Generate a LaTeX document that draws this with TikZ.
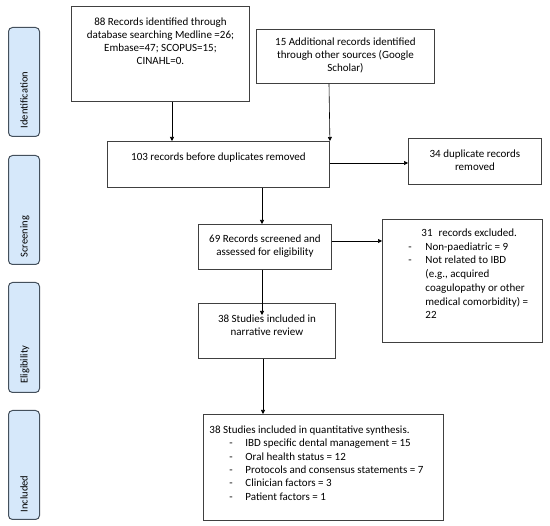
\documentclass[tikz,border=0pt]{standalone}
\usepackage{fontspec}
\setmainfont{Carlito}
\usetikzlibrary{arrows.meta}
\definecolor{stagefill}{HTML}{D6E8FA}
\definecolor{stageline}{HTML}{44505C}
\definecolor{boxline}{HTML}{404040}
\newcommand{\bxt}[3]{\parbox[t][#2pt][t]{#1pt}{\fontsize{11}{13}\selectfont #3}}
\tikzset{
  box/.style={draw=boxline, line width=0.9pt, inner sep=0pt, anchor=north west, fill=white},
  stage/.style={draw=stageline, fill=stagefill, line width=1pt, rounded corners=4pt,
    minimum width=31pt, anchor=north west, inner sep=0pt},
  stagetxt/.style={rotate=90, anchor=base west, font=\fontsize{10.5}{12}\selectfont, inner sep=0pt},
  flow/.style={draw=black, line width=0.6pt, -{Triangle[length=4pt,width=4pt]}}
}
\begin{document}
\begin{tikzpicture}[x=1pt,y=-1pt]
\useasboundingbox (0,0) rectangle (550,526);
% stage labels
\node[stage, minimum height=109pt] (s1) at (8,27) {};
\node[stage, minimum height=109pt] (s2) at (8,155) {};
\node[stage, minimum height=110pt] (s3) at (8,282) {};
\node[stage, minimum height=109pt] (s4) at (8,410) {};
\node[stagetxt] (t1) at ([xshift=3.5pt,yshift=8.5pt]s1.south) {Identification};
\node[stagetxt] (t2) at ([xshift=3.5pt,yshift=7.5pt]s2.south) {Screening};
\node[stagetxt] (t3) at ([xshift=3.5pt,yshift=9pt]s3.south) {Eligibility};
\node[stagetxt] (t4) at ([xshift=3.5pt,yshift=7.5pt]s4.south) {Included};
% boxes
\node[box] (a) at (71,6) {\bxt{178}{95}{\vspace*{11pt}\centering 88 Records identified through\\ database searching Medline =26;\\ Embase=47; SCOPUS=15;\\ CINAHL=0.\par}};
\node[box] (b) at (256,29) {\bxt{178}{54}{\vspace*{8.5pt}\centering 15 Additional records identified\\ through other sources (Google\\ Scholar)\par}};
\node[box] (c) at (107,141) {\bxt{222}{46}{\vspace*{11.5pt}\centering 103 records before duplicates removed\par}};
\node[box] (d) at (408,138) {\bxt{133}{46}{\vspace*{11.5pt}\centering 34 duplicate records\\ removed\par}};
\node[box] (e) at (198,224) {\bxt{133}{45}{\vspace*{10.5pt}\centering 69 Records screened and\\ assessed for eligibility\par}};
\node[box] (f) at (382,219) {\bxt{160}{123}{\fontsize{11}{13.7}\selectfont\vspace*{9.5pt}\hspace*{39pt}31\hspace{6pt}records excluded.\\
\hspace*{26pt}\makebox[17pt][l]{-}Non-paediatric = 9\\
\hspace*{26pt}\makebox[17pt][l]{-}Not related to IBD\\
\hspace*{43pt}(e.g., acquired\\
\hspace*{43pt}coagulopathy or other\\
\hspace*{43pt}medical comorbidity) =\\
\hspace*{43pt}22\par}};
\node[box] (g) at (198,303) {\bxt{137}{55}{\vspace*{11.5pt}\centering 38 Studies included in\\ narrative review\par}};
\node[box] (h) at (203,414) {\bxt{240}{106}{\fontsize{11}{13.3}\selectfont\vspace*{11.5pt}\hspace*{6pt}38 Studies included in quantitative synthesis.\\
\hspace*{26pt}\makebox[16pt][l]{-}IBD specific dental management = 15\\
\hspace*{26pt}\makebox[16pt][l]{-}Oral health status = 12\\
\hspace*{26pt}\makebox[16pt][l]{-}Protocols and consensus statements = 7\\
\hspace*{26pt}\makebox[16pt][l]{-}Clinician factors = 3\\
\hspace*{26pt}\makebox[16pt][l]{-}Patient factors = 1\par}};
% connectors
\draw[flow] (a.south -| 172,0) -- (c.north -| 172,0);
\draw[flow] (b.south -| 329,0) -- (c.north east);
\draw[flow] (c.east |- 0,163) -- (d.west |- 0,163);
\draw[flow] (c.south -| 262,0) -- (e.north -| 262,0);
\draw[flow] (e.east |- 0,241) -- (f.west |- 0,241);
\draw[flow] (e.south -| 262,0) -- ([yshift=-12pt]g.north -| 262,0);
\draw[flow] (g.south -| 263,0) -- (h.north -| 263,0);
\end{tikzpicture}
\end{document}
